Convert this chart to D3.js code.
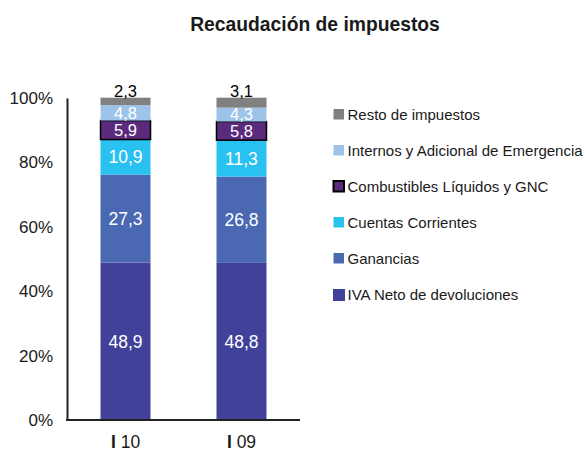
<!DOCTYPE html>
<html><head><meta charset="utf-8">
<script src="https://cdn.jsdelivr.net/npm/d3@7"></script>
<style>body{margin:0;background:#fff}svg{display:block;font-family:"Liberation Sans",Arial,sans-serif}</style>
</head><body><svg id="c" width="585" height="451"></svg>
<script>
const categories = ["I 10", "I 09"];
const seriesNames = ["IVA Neto de devoluciones", "Ganancias", "Cuentas Corrientes", "Combustibles Líquidos y GNC", "Internos y Adicional de Emergencia", "Resto de impuestos"];
const iva = [48.9, 48.8];
const ganancias = [27.3, 26.8];
const cuentas = [10.9, 11.3];
const combustibles = [5.9, 5.8];
const internos = [4.8, 4.3];
const resto = [2.3, 3.1];
const yTicks = [0, 20, 40, 60, 80, 100];
const colors = ["#41419a", "#4a69b2", "#28c1f0", "#5a2a7c", "#9dc3e8", "#808080"];
const labelColors = ["#fff", "#fff", "#fff", "#fff", "#fff", "#000"];

const values = [iva, ganancias, cuentas, combustibles, internos, resto];
const svg = d3.select("#c");
const x = d3.scaleBand().domain(categories).range([67, 300]).paddingInner(0.569).paddingOuter(0.289);
const y = d3.scaleLinear().domain([0, 100]).range([420, 98]);
const FS = 17.5;

svg.append("text").attr("x", 315).attr("y", 30.5).attr("text-anchor", "middle")
  .attr("font-size", 19.3).attr("font-weight", "bold").attr("fill", "#1a1a1a").text("Recaudación de impuestos");

// stacks
categories.forEach((c, ci) => {
  let acc = 0;
  values.forEach((arr, si) => {
    const v = arr[ci];
    const y0 = y(acc), y1 = y(Math.min(acc + v, 100.1));
    const g = svg.append("g");
    g.append("rect").attr("x", x(c)).attr("width", x.bandwidth())
      .attr("y", y1).attr("height", y0 - y1).attr("fill", colors[si])
      .attr("stroke", si === 3 ? "#000" : "none").attr("stroke-width", si === 3 ? 1.5 : 0);
    const small = si >= 3;
    let ly = (y0 + y1) / 2 + (small ? 5.8 : 6.3);
    if (si === 5) ly = y1 - 1;
    g.append("text").attr("x", x(c) + x.bandwidth() / 2).attr("y", ly)
      .attr("text-anchor", "middle").attr("font-size", small ? 16.5 : FS).attr("fill", labelColors[si])
      .text(String(v).replace(".", ","));
    acc += v;
  });
});

// axes
const yAxis = d3.axisLeft(y).tickValues(yTicks).tickSize(0).tickPadding(14).tickFormat(d => d + "%");
const ya = svg.append("g").attr("transform", "translate(67,0)").call(yAxis);
ya.select(".domain").attr("stroke", "#222").attr("stroke-width", 2);
ya.selectAll("text").attr("font-size", 17).attr("fill", "#1a1a1a").attr("font-family", "Liberation Sans, Arial, sans-serif");

const xAxis = d3.axisBottom(x).tickSize(0).tickPadding(16);
const xa = svg.append("g").attr("transform", "translate(0,420)").call(xAxis);
xa.select(".domain").attr("stroke", "#222").attr("stroke-width", 2).attr("d", "M66,0H300");
xa.selectAll("text").attr("font-size", FS).attr("fill", "#1a1a1a").attr("font-family", "Liberation Sans, Arial, sans-serif")
  .each(function(d) {
    const t = d3.select(this); const parts = d.split(" ");
    t.text(null);
    t.append("tspan").attr("font-weight", "bold").text(parts[0]);
    t.append("tspan").text(" " + parts[1]);
  });

// legend (top to bottom reversed order)
const legOrder = [5, 4, 3, 2, 1, 0];
legOrder.forEach((si, i) => {
  const ly = 115 + i * 36;
  svg.append("rect").attr("x", si === 0 ? 333 : 333.5).attr("y", ly - 6).attr("width", si === 0 ? 12 : 10.5).attr("height", si === 0 ? 12 : 10.5)
    .attr("fill", colors[si]).attr("stroke", si === 3 ? "#000" : "none").attr("stroke-width", si === 3 ? 2 : 0);
  svg.append("text").attr("x", 347.5).attr("y", ly + 5.3).attr("font-size", 15).attr("fill", "#1a1a1a").text(seriesNames[si]);
});
</script></body></html>
